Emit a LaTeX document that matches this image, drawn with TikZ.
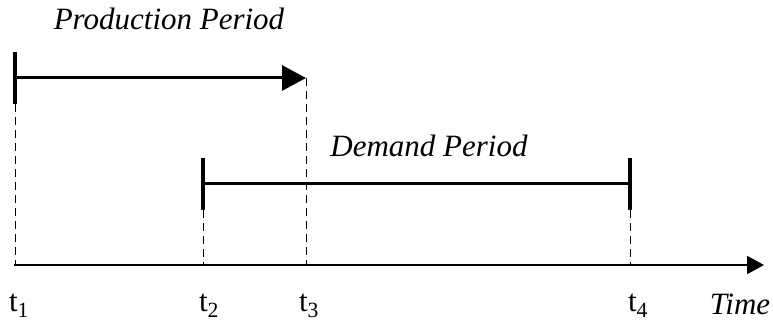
\documentclass[tikz,border=0pt]{standalone}
\usepackage{fontspec}
\setmainfont{Liberation Serif}
\usetikzlibrary{arrows.meta}
\begin{document}
\begin{tikzpicture}[x=1pt, y=1pt, font=\fontsize{31}{36}\selectfont,
  period/.style={line width=3pt},
  bound/.style={line width=4pt},
  guide/.style={line width=1pt, dash pattern=on 8pt off 5pt},
  bigtip/.style={-{Triangle[length=24pt,width=25pt]}}]
 \useasboundingbox (0,0) rectangle (773,326);
 % Các điểm trên trục thời gian
 \coordinate (o) at (14,61);
 \coordinate (end) at (764,61);
 \coordinate (a1) at (15,61);
 \coordinate (a2) at (203,61);
 \coordinate (a3) at (306,61);
 \coordinate (a4) at (630,61);
 % Trục thời gian
 \draw[line width=2pt, -{Triangle[length=17pt,width=18pt]}] (o) -- (end);
 \node (t1) at (19,20) {t\textsubscript{1}};
 \node (t2) at (209,20) {t\textsubscript{2}};
 \node (t3) at (309,20) {t\textsubscript{3}};
 \node (t4) at (638,20) {t\textsubscript{4}};
 \node (time) at (740,22) {\itshape Time};
 % Thời kỳ sản xuất
 \coordinate (p1) at (15,248);
 \coordinate (p2) at (306,248);
 \coordinate (p1top) at (15,274);
 \coordinate (p1bot) at (15,222);
 \draw[bound] (p1top) -- (p1bot);
 \draw[period, bigtip] (p1) -- (p2);
 \node (prod) at (169,307) {\itshape Production Period};
 % Thời kỳ nhu cầu
 \coordinate (d1) at (203,142);
 \coordinate (d2) at (630,142);
 \coordinate (d1top) at (203,168);
 \coordinate (d1bot) at (203,116);
 \coordinate (d2top) at (630,168);
 \coordinate (d2bot) at (630,116);
 \draw[bound] (d1top) -- (d1bot);
 \draw[bound] (d2top) -- (d2bot);
 \draw[period] (d1) -- (d2);
 \node (dem) at (429,180) {\itshape Demand Period};
 % Đường gióng nét đứt
 \draw[guide] (p1bot) -- (a1);
 \draw[guide] (p2) -- (a3);
 \draw[guide] (d1bot) -- (a2);
 \draw[guide] (d2bot) -- (a4);
\end{tikzpicture}
\end{document}
